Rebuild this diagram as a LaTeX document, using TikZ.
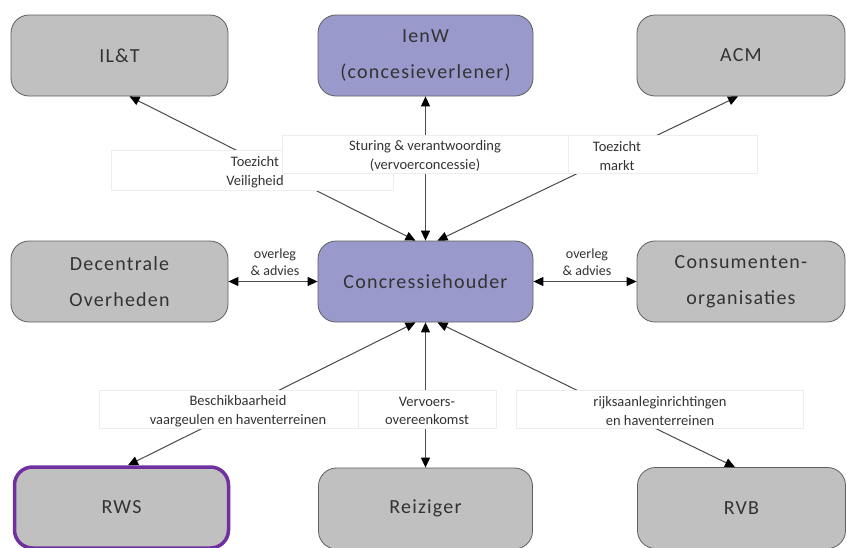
\documentclass[tikz,border=0pt]{standalone}
\usepackage{fontspec}
\setmainfont{Carlito}
\newfontfamily\boxfont{Carlito}[LetterSpace=6]
\usetikzlibrary{arrows.meta}
\definecolor{boxgray}{HTML}{C0C0C0}
\definecolor{boxpurple}{HTML}{9999CC}
\definecolor{edgegray}{HTML}{5F5F5F}
\definecolor{rwspurple}{HTML}{7030A0}
\definecolor{txt}{HTML}{333333}
\definecolor{linegray}{HTML}{4A4A4A}
\definecolor{faint}{HTML}{EDEDED}
\begin{document}
\begin{tikzpicture}[x=1pt,y=-1pt,
  box/.style={draw=edgegray, line width=0.8pt, rounded corners=18pt, fill=boxgray,
    minimum height=81pt, inner sep=0pt, align=center, text=txt,
    font=\boxfont\fontsize{20}{36}\selectfont},
  purplebox/.style={box, fill=boxpurple},
  rwsbox/.style={box, draw=rwspurple, line width=3.5pt},
  lblbox/.style={fill=white, draw=faint, line width=0.6pt, inner sep=0pt},
  lbl/.style={inner sep=0pt, align=center, text=txt, font=\fontsize{14.5}{18.5}\selectfont},
  plainlbl/.style={inner sep=0pt, align=center, text=txt, font=\fontsize{14}{17}\selectfont},
  link/.style={draw=linegray, line width=1pt,
    {Triangle[length=10pt,width=9pt,color=black]}-{Triangle[length=10pt,width=9pt,color=black]}},
]
\useasboundingbox (0,0) rectangle (847,547);
\fill[white] (0,0) rectangle (847,547);

% boxes
\node[box, minimum width=217pt] (ilt) at (119.5,55.5) {IL\&T};
\node[purplebox, minimum width=215pt] (ienw) at (425.5,55.5) {IenW\\(concesieverlener)};
\node[box, minimum width=208pt] (acm) at (741,55.5) {ACM};

\node[box, minimum width=217pt] (dec) at (119.5,281.5) {Decentrale\\Overheden};
\node[purplebox, minimum width=215pt] (con) at (425.5,281.5) {Concressiehouder};
\node[box, minimum width=208pt] (cons) at (741,281.5) {Consumenten-\\organisaties};

\node[rwsbox, minimum width=214pt] (rws) at (121.5,507.5) {RWS};
\node[box, minimum width=214pt] (rei) at (425.5,508.5) {Reiziger};
\node[box, minimum width=208pt] (rvb) at (741.5,508) {RVB};

% connectors
\draw[link] ([xshift=-10pt]con.north) -- ([xshift=10pt]ilt.south);
\draw[link] (con.north) -- (ienw.south);
\draw[link] ([xshift=12pt]con.north) -- ([xshift=-3pt]acm.south);
\draw[link] (dec.east) -- (con.west);
\draw[link] (con.east) -- (cons.west);
\draw[link] ([xshift=-10pt]con.south) -- ([xshift=6.5pt]rws.north);
\draw[link] (con.south) -- (rei.north);
\draw[link] ([xshift=12pt]con.south) -- ([xshift=-6.5pt]rvb.north);

% label backgrounds
\node[lblbox, minimum width=282pt, minimum height=40pt] (lvbg) at (252,170) {};
\node[lblbox, minimum width=279pt, minimum height=38pt] (lmbg) at (617.5,154) {};
\node[lblbox, minimum width=286pt, minimum height=38pt] (lsbg) at (425,154) {};
\node[lblbox, minimum width=262pt, minimum height=38pt] (lbbg) at (230,409) {};
\node[lblbox, minimum width=138pt, minimum height=38pt] (lvobg) at (427,409) {};
\node[lblbox, minimum width=287pt, minimum height=38pt] (lrbg) at (659.5,409) {};

% label texts
\node[lbl] (lv) at (255,172) {Toezicht\\Veiligheid};
\node[lbl] (ls) at (425,156) {Sturing \& verantwoording\\(vervoerconcessie)};
\node[lbl] (lm) at (617,156) {Toezicht\\markt};
\node[lbl] (lb) at (238,411) {Beschikbaarheid\\vaargeulen en haventerreinen};
\node[lbl] (lvo) at (427,411) {Vervoers-\\overeenkomst};
\node[lbl] (lr) at (660,411) {rijksaanleginrichtingen\\en haventerreinen};

\node[plainlbl] (o1) at (275,262) {overleg\\\& advies};
\node[plainlbl] (o2) at (587,262) {overleg\\\& advies};
\end{tikzpicture}
\end{document}
